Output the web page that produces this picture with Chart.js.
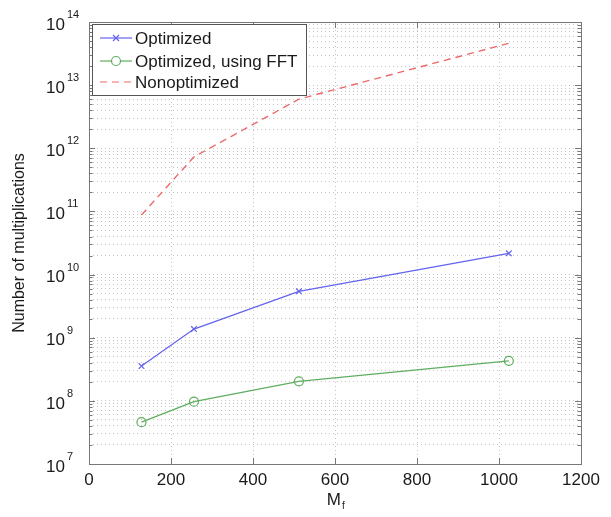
<!DOCTYPE html>
<html lang="en">
<head>
    <meta charset="UTF-8">
    <title>Number of multiplications vs Mf</title>
    <script src="https://cdn.jsdelivr.net/npm/chart.js"></script>
    <style>
        html, body { margin: 0; padding: 0; background: #fff; }
        #wrap { width: 611px; height: 517px; }
    </style>
</head>
<body>
    <div id="wrap"><canvas id="chart" width="611" height="517"></canvas></div>

    <script>
        // data
        const mf = [128, 256, 512, 1024];
        const optimized = [3.56e8, 1.37e9, 5.43e9, 2.17e10];
        const optimizedFFT = [4.6e7, 9.7e7, 2.04e8, 4.3e8];
        const nonoptimized = [8.8e10, 7.3e11, 6.0e12, 4.6e13];

        const xTicks = [0, 200, 400, 600, 800, 1000, 1200];
        const yExponents = [7, 8, 9, 10, 11, 12, 13, 14];
        const yMinor = [1, 2, 3, 4, 5, 6, 7, 8, 9];

        const labels = ['Optimized', 'Optimized, using FFT', 'Nonoptimized'];
        const colors = ['#6464ee', '#5fae5f', '#ee6a6a'];

        const FONT = "'Liberation Sans', Arial, Helvetica, sans-serif";

        // every minor/major value on the log axis
        const yTickValues = [];
        yExponents.forEach((e, i) => {
            if (i === yExponents.length - 1) { yTickValues.push(Math.pow(10, e)); return; }
            yMinor.forEach(m => yTickValues.push(m * Math.pow(10, e)));
        });

        const pts = (ys) => mf.map((x, i) => ({ x: x, y: ys[i] }));

        // frame, tick marks, y labels, axis titles and legend
        const matlabPlugin = {
            id: 'matlab',
            beforeDatasetsDraw(chart) {
                const ctx = chart.ctx;
                const a = chart.chartArea;
                const xs = chart.scales.x, ys = chart.scales.y;
                ctx.save();
                ctx.strokeStyle = '#777';
                ctx.lineWidth = 1;
                ctx.beginPath();
                yTickValues.forEach(v => {
                    const y = Math.round(ys.getPixelForValue(v)) + 0.5;
                    const len = Number.isInteger(Math.log10(v)) ? 6 : 3.5;
                    ctx.moveTo(a.left, y); ctx.lineTo(a.left + len, y);
                    ctx.moveTo(a.right, y); ctx.lineTo(a.right - len, y);
                });
                xTicks.forEach(v => {
                    const x = Math.round(xs.getPixelForValue(v)) + 0.5;
                    ctx.moveTo(x, a.top); ctx.lineTo(x, a.top + 6);
                    ctx.moveTo(x, a.bottom); ctx.lineTo(x, a.bottom - 6);
                });
                ctx.stroke();
                ctx.strokeRect(a.left + 0.5, a.top + 0.5, a.right - a.left, a.bottom - a.top);
                ctx.restore();
            },
            afterDraw(chart) {
                const ctx = chart.ctx;
                const a = chart.chartArea;
                const ys = chart.scales.y;
                ctx.save();
                ctx.fillStyle = '#1a1a1a';

                // y tick labels 10^n
                yExponents.forEach(e => {
                    const y = ys.getPixelForValue(Math.pow(10, e));
                    ctx.font = '17px ' + FONT;
                    ctx.textAlign = 'right';
                    ctx.textBaseline = 'middle';
                    ctx.fillText('10', 65, y + 3);
                    ctx.font = '11px ' + FONT;
                    ctx.textAlign = 'left';
                    ctx.fillText(String(e), 67, y - 7);
                });

                // y title
                ctx.save();
                ctx.translate(20, (a.top + a.bottom) / 2);
                ctx.rotate(-Math.PI / 2);
                ctx.font = '16px ' + FONT;
                ctx.textAlign = 'center';
                ctx.textBaseline = 'middle';
                ctx.fillText('Number of multiplications', 0, 0);
                ctx.restore();

                // x title M_f
                const cx = (a.left + a.right) / 2;
                ctx.font = '17px ' + FONT;
                ctx.textAlign = 'right';
                ctx.textBaseline = 'alphabetic';
                ctx.fillText('M', cx + 6, 505);
                ctx.font = '10px ' + FONT;
                ctx.textAlign = 'left';
                ctx.fillText('f', cx + 7, 509);

                // legend
                const lx = 92, ly = 24, lw = 214, lh = 71;
                ctx.fillStyle = '#fff';
                ctx.fillRect(lx, ly, lw, lh);
                ctx.strokeStyle = '#555';
                ctx.lineWidth = 1;
                ctx.strokeRect(lx + 0.5, ly + 0.5, lw, lh);
                const rows = [38, 61, 82];
                rows.forEach((ry, i) => {
                    ctx.strokeStyle = colors[i];
                    ctx.lineWidth = 1.2;
                    ctx.setLineDash(i === 2 ? [7, 5] : []);
                    ctx.beginPath();
                    ctx.moveTo(100, ry); ctx.lineTo(132, ry);
                    ctx.stroke();
                    ctx.setLineDash([]);
                    if (i === 0) {
                        ctx.beginPath();
                        ctx.moveTo(113, ry - 3); ctx.lineTo(119, ry + 3);
                        ctx.moveTo(119, ry - 3); ctx.lineTo(113, ry + 3);
                        ctx.stroke();
                    } else if (i === 1) {
                        ctx.fillStyle = '#fff';
                        ctx.beginPath();
                        ctx.arc(116, ry, 4.5, 0, Math.PI * 2);
                        ctx.fill();
                        ctx.stroke();
                    }
                    ctx.fillStyle = '#1a1a1a';
                    ctx.font = '17px ' + FONT;
                    ctx.textAlign = 'left';
                    ctx.textBaseline = 'middle';
                    ctx.fillText(labels[i], 135, ry + 1);
                });
                ctx.restore();
            }
        };

        const ctx = document.getElementById('chart').getContext('2d');
        const chart = new Chart(ctx, {
            type: 'line',
            data: {
                datasets: [
                    {
                        label: labels[0],
                        data: pts(optimized),
                        borderColor: colors[0],
                        backgroundColor: colors[0],
                        borderWidth: 1.3,
                        pointStyle: 'crossRot',
                        pointRadius: 4,
                        pointBorderWidth: 1.2,
                        tension: 0
                    },
                    {
                        label: labels[1],
                        data: pts(optimizedFFT),
                        borderColor: colors[1],
                        backgroundColor: 'rgba(0,0,0,0)',
                        borderWidth: 1.3,
                        pointStyle: 'circle',
                        pointRadius: 4.5,
                        pointBorderWidth: 1.2,
                        tension: 0
                    },
                    {
                        label: labels[2],
                        data: pts(nonoptimized),
                        borderColor: colors[2],
                        borderWidth: 1.4,
                        borderDash: [7, 5],
                        pointRadius: 0,
                        tension: 0
                    }
                ]
            },
            options: {
                responsive: false,
                animation: false,
                layout: { padding: { left: 0, right: 30, top: 22, bottom: 0 } },
                plugins: {
                    legend: { display: false },
                    tooltip: { enabled: false }
                },
                scales: {
                    x: {
                        type: 'linear',
                        min: 0,
                        max: 1200,
                        afterBuildTicks: (axis) => { axis.ticks = xTicks.map(v => ({ value: v })); },
                        afterFit: (axis) => { axis.height = 53; },
                        border: { display: false, dash: [1, 3] },
                        grid: { color: '#c4c4c4', lineWidth: 1, drawTicks: false },
                        ticks: {
                            padding: 6,
                            color: '#1a1a1a',
                            font: { family: FONT, size: 17 },
                            maxRotation: 0,
                            autoSkip: false,
                            callback: (v) => String(v)
                        }
                    },
                    y: {
                        type: 'logarithmic',
                        min: 1e7,
                        max: 1e14,
                        afterBuildTicks: (axis) => { axis.ticks = yTickValues.map(v => ({ value: v })); },
                        afterFit: (axis) => { axis.width = 89; },
                        border: { display: false, dash: [1, 3] },
                        grid: { color: '#c4c4c4', lineWidth: 1, drawTicks: false },
                        ticks: { display: false }
                    }
                }
            },
            plugins: [matlabPlugin]
        });
    </script>
</body>
</html>
